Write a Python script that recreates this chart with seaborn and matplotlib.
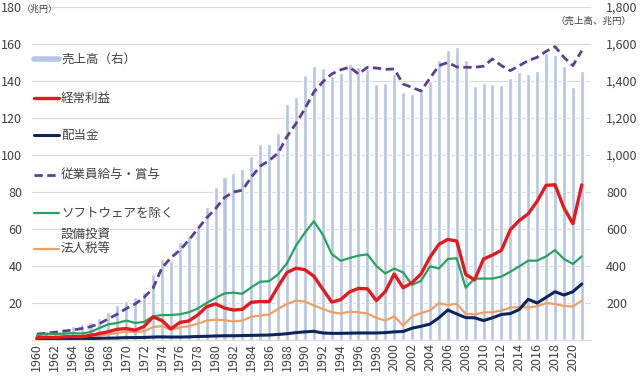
import matplotlib
matplotlib.use("Agg")
import matplotlib.pyplot as plt
import matplotlib.ticker as mticker
from matplotlib.lines import Line2D
import seaborn as sns

# years (fiscal) 1960-2021
years = list(range(1960, 2022))

# sales (right axis, trillion yen)
sales = [40, 50, 56, 67, 78, 85, 97, 119, 151, 189,
         211, 232, 259, 357, 438, 427, 530, 562, 611, 719,
         827, 881, 903, 924, 994, 1059, 1059, 1119, 1275, 1313,
         1432, 1481, 1470, 1427, 1443, 1492, 1476, 1465, 1384, 1389,
         1438, 1341, 1330, 1357, 1402, 1514, 1569, 1582, 1514, 1371,
         1389, 1384, 1378, 1415, 1450, 1438, 1456, 1551, 1541, 1483,
         1366, 1452]

# ordinary profit
profit = [1.2, 1.5, 1.4, 1.7, 1.9, 1.8, 2.5, 3.5, 4.5, 5.8,
          6.2, 5.3, 7.3, 12.5, 10.5, 6.0, 9.5, 10.3, 13.5, 18.0,
          19.5, 17.3, 16.2, 16.6, 20.4, 20.8, 20.7, 29.0, 36.5, 38.8,
          38.0, 34.5, 27.5, 20.5, 21.8, 26.0, 27.9, 27.7, 21.3, 26.2,
          35.7, 28.2, 31.0, 35.7, 44.7, 51.7, 54.4, 53.5, 35.5, 32.5,
          43.8, 45.9, 48.5, 59.6, 64.6, 68.2, 75.0, 83.6, 83.9, 71.4,
          62.9, 83.9]

# dividends
dividend = [0.4, 0.5, 0.6, 0.6, 0.7, 0.7, 0.8, 0.9, 1.0, 1.1,
            1.3, 1.3, 1.4, 1.6, 1.7, 1.6, 1.6, 1.7, 1.9, 2.0,
            2.2, 2.3, 2.3, 2.4, 2.5, 2.6, 2.7, 3.0, 3.4, 4.0,
            4.4, 4.7, 3.8, 3.6, 3.6, 3.7, 3.8, 3.8, 3.8, 4.0,
            4.4, 4.6, 6.4, 7.4, 8.6, 12.0, 16.2, 14.1, 12.1, 12.0,
            10.5, 12.0, 13.8, 14.3, 16.5, 22.0, 20.0, 23.0, 26.1, 24.3,
            26.1, 30.3]

# employee salaries and bonuses
salary = [3.2, 3.7, 4.2, 4.8, 5.4, 6.2, 7.2, 8.8, 11.5, 14.0,
          17.0, 19.5, 23.0, 28.0, 39.0, 44.5, 48.5, 54.0, 60.0, 66.0,
          71.0, 77.0, 80.0, 81.0, 88.0, 94.0, 97.0, 101.0, 110.0, 117.0,
          125.0, 134.0, 139.5, 143.8, 146.0, 147.5, 143.8, 147.4, 147.0, 146.3,
          146.5, 138.4, 136.5, 134.6, 141.5, 148.3, 150.0, 147.6, 147.4, 147.4,
          148.0, 151.9, 148.3, 145.6, 148.3, 151.0, 152.8, 156.0, 158.6, 152.8,
          148.3, 156.4]

# capital investment excluding software
capex = [2.5, 3.3, 3.3, 3.4, 3.7, 3.5, 4.3, 6.5, 8.5, 9.2,
         10.5, 9.2, 9.8, 12.8, 13.5, 13.5, 13.9, 15.0, 17.0, 20.0,
         22.7, 25.2, 25.6, 25.0, 28.5, 31.5, 31.8, 35.5, 41.5, 51.0,
         58.0, 64.2, 57.0, 46.5, 42.8, 44.3, 45.6, 46.3, 40.0, 36.0,
         38.6, 36.5, 29.8, 32.0, 39.8, 38.7, 43.8, 44.2, 28.3, 33.2,
         33.2, 33.2, 34.3, 36.9, 39.8, 42.9, 42.9, 45.2, 48.6, 43.8,
         41.1, 45.2]

# corporate taxes
tax = [1.0, 1.2, 1.2, 1.3, 1.5, 1.5, 1.8, 2.4, 3.0, 3.8,
       4.6, 4.2, 4.8, 7.0, 7.5, 5.5, 6.8, 7.5, 8.8, 10.5,
       11.0, 10.7, 10.0, 10.5, 12.6, 13.2, 13.8, 16.8, 19.5, 21.3,
       20.8, 18.7, 16.8, 15.0, 14.3, 15.3, 15.0, 14.3, 12.0, 10.5,
       12.8, 7.8, 12.8, 14.5, 16.0, 19.9, 18.9, 19.6, 14.1, 13.8,
       14.9, 15.0, 15.9, 17.5, 17.8, 17.6, 18.2, 19.9, 19.5, 18.4,
       18.1, 21.3]

c_bar = "#b4c6e7"
c_red = "#e41a1c"
c_navy = "#0d2558"
c_purple = "#5e3f91"
c_green = "#27a35e"
c_orange = "#ef9f64"
c_text = "#404040"

sns.set_style("white")
plt.rcParams["font.family"] = ["Noto Sans CJK JP", "DejaVu Sans"]

fig = plt.figure(figsize=(6.4, 3.78), dpi=100)
ax = fig.add_axes([0.05, 0.1005, 0.873, 0.881])
ax2 = ax.twinx()

# sales bars on right axis
sns.barplot(x=years, y=sales, native_scale=True, width=0.45, color=c_bar,
            saturation=1, ax=ax2)
ax2.set_ylim(0, 1800)
ax2.yaxis.grid(True, color="#d9d9d9", lw=0.8)
ax2.set_axisbelow(True)
ax2.set_yticks(range(200, 1801, 200))
ax2.yaxis.set_major_formatter(mticker.FuncFormatter(lambda v, p: f"{int(v):,}"))
ax2.tick_params(axis="y", length=0, pad=11, labelsize=9, labelcolor=c_text)
ax2.set_ylabel("")
ax2.set_xlabel("")

# lines on left axis
ax.set_zorder(ax2.get_zorder() + 1)
ax.patch.set_visible(False)
sns.lineplot(x=years, y=salary, ax=ax, color=c_purple, lw=2.0,
             linestyle=(0, (3, 1.6)))
sns.lineplot(x=years, y=capex, ax=ax, color=c_green, lw=1.6)
sns.lineplot(x=years, y=tax, ax=ax, color=c_orange, lw=1.6)
sns.lineplot(x=years, y=dividend, ax=ax, color=c_navy, lw=2.2)
sns.lineplot(x=years, y=profit, ax=ax, color=c_red, lw=2.4)

ax.set_ylim(0, 180)
ax.set_xlim(1959.45, 2022.0)
ax2.set_xlim(1959.45, 2022.0)
ax.set_yticks(range(20, 181, 20))
ax.set_xticks(range(1960, 2021, 2))
ax.tick_params(axis="y", length=0, pad=7, labelsize=9, labelcolor=c_text)
ax.tick_params(axis="x", length=0, pad=2, labelsize=9, labelcolor=c_text,
               labelrotation=90)
ax.set_xlabel("")
ax.set_ylabel("")

for a in (ax, ax2):
    for s in ["top", "left", "right"]:
        a.spines[s].set_visible(False)
    a.spines["bottom"].set_color("#d9d9d9")

# unit labels
fig.text(0.034, 1 - 9 / 378, "（兆円）", fontsize=6.5, color=c_text, va="center")
fig.text(0.868, 1 - 21 / 378, "（売上高、兆円）", fontsize=6.8, color=c_text,
         va="center")

# legend drawn by hand (irregular spacing like the original)
legend_items = [
    ("売上高（右）", c_bar, 4.0, "-", 59),
    ("経常利益", c_red, 2.4, "-", 98),
    ("配当金", c_navy, 2.2, "-", 135),
    ("従業員給与・賞与", c_purple, 2.0, (0, (3, 1.6)), 175),
    ("ソフトウェアを除く\n設備投資", c_green, 1.6, "-", 213),
    ("法人税等", c_orange, 1.6, "-", 249),
]
for label, col, lw, ls, ypix in legend_items:
    y = 1 - ypix / 378
    fig.add_artist(Line2D([34 / 640, 59 / 640], [y, y], color=col, lw=lw,
                          linestyle=ls))
    lines = label.split("\n")
    for i, part in enumerate(lines):
        yy = 1 - (ypix + i * 21) / 378
        fig.text(61 / 640, yy, part, fontsize=9, color=c_text, va="center")

fig.savefig("out.png", dpi=100, facecolor="white")
